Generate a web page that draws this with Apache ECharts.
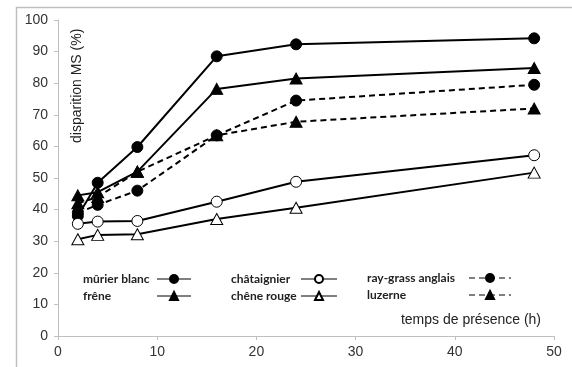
<!DOCTYPE html>
<html><head><meta charset="utf-8">
<script src="https://cdn.jsdelivr.net/npm/echarts@6/dist/echarts.min.js"></script>
<style>html,body{margin:0;padding:0;background:#fff}#c{width:572px;height:367px}</style>
</head><body><div id="c"></div>
<script>
const hours = [2, 4, 8, 16, 24, 48];
const murierBlanc = [38, 48.5, 59.8, 88.5, 92.3, 94.2];
const frene = [44.5, 45.5, 52, 78.2, 81.5, 84.8];
const rayGrass = [39, 41.5, 46, 63.5, 74.5, 79.5];
const luzerne = [42, 44, 52, 63.5, 67.8, 72];
const chataignier = [35.5, 36.2, 36.4, 42.5, 48.8, 57.2];
const cheneRouge = [30.6, 32, 32.2, 37, 40.6, 51.7];
const xTicks = [0, 10, 20, 30, 40, 50];
const yTicks = [0, 10, 20, 30, 40, 50, 60, 70, 80, 90, 100];

const pair = (arr) => hours.map((h, i) => [h, arr[i]]);
const TRI = 'path://M5,0 L10,9 L0,9 Z';
function mk(name, data, symbol, filled, dashed) {
  return {
    name, type: 'line', data: pair(data), symbol,
    symbolSize: symbol === 'circle' ? 11 : [12, 11],
    lineStyle: { color: '#000', width: 2, type: dashed ? [6, 4] : 'solid' },
    itemStyle: { color: filled ? '#000' : '#fff', borderColor: '#000', borderWidth: 1 },
    emphasis: { disabled: true }, z: filled ? 2 : 3
  };
}
function legendAt(left, top, names, textW, iconW) {
  return {
    orient: 'vertical', align: 'right', padding: 0, itemGap: 5,
    left, top, data: names,
    itemWidth: iconW, itemHeight: 10, selectedMode: false,
    lineStyle: { width: 1 },
    formatter: n => '{a|' + n + '}',
    textStyle: {
      fontFamily: 'Lato', fontWeight: 'bold', fontSize: 12, color: '#222',
      rich: { a: { width: textW, align: 'left', fontFamily: 'Lato', fontWeight: 'bold', fontSize: 12, color: '#222' } }
    }
  };
}
const AX = { fontFamily: 'Liberation Sans', fontSize: 14, color: '#333' };
const chart = echarts.init(document.getElementById('c'));
chart.setOption({
  animation: false,
  grid: { left: 58, right: 18, top: 20, bottom: 31 },
  xAxis: {
    type: 'value', min: 0, max: 50, interval: 10,
    axisLine: { lineStyle: { color: '#bfbfbf' } },
    axisTick: { show: true, length: 4, lineStyle: { color: '#bfbfbf' } },
    axisLabel: Object.assign({ margin: 9, formatter: v => xTicks.includes(v) ? String(v) : '' }, AX),
    splitLine: { show: false }
  },
  yAxis: {
    type: 'value', min: 0, max: 100, interval: 10,
    axisLine: { show: true, lineStyle: { color: '#bfbfbf' } },
    axisTick: { show: true, length: 4, lineStyle: { color: '#bfbfbf' } },
    axisLabel: Object.assign({ margin: 10, formatter: v => yTicks.includes(v) ? String(v) : '' }, AX),
    splitLine: { show: false }
  },
  legend: [
    legendAt(83, 273, ['mûrier blanc', 'frêne'], 69, 34),
    legendAt(231, 273, ['châtaignier', 'chêne rouge'], 65, 36),
    legendAt(367, 272, ['ray-grass anglais', 'luzerne'], 97, 42)
  ],
  graphic: [
    { type: 'rect', left: 14, top: 5, shape: { width: 600, height: 400 },
      style: { fill: 'none', stroke: '#bfbfbf', lineWidth: 1.5 }, silent: true },
    { type: 'text', right: 31, top: 313,
      style: { text: 'temps de présence (h)', font: '14px "Liberation Sans"', fill: '#222' } },
    { type: 'text', x: 70, y: 143, rotation: Math.PI / 2,
      style: { text: 'disparition MS (%)', font: '14px "Liberation Sans"', fill: '#222' } }
  ],
  series: [
    mk('mûrier blanc', murierBlanc, 'circle', true, false),
    mk('frêne', frene, TRI, true, false),
    mk('châtaignier', chataignier, 'circle', false, false),
    mk('chêne rouge', cheneRouge, TRI, false, false),
    mk('ray-grass anglais', rayGrass, 'circle', true, true),
    mk('luzerne', luzerne, TRI, true, true)
  ]
});
</script></body></html>
